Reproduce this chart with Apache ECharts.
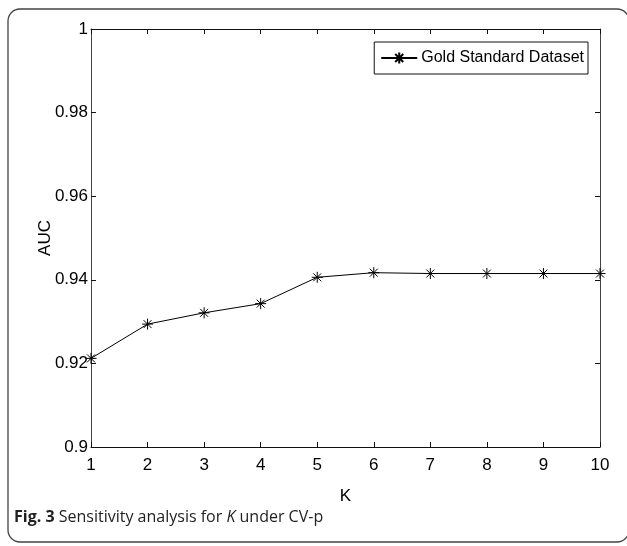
<!DOCTYPE html>
<html>
<head>
<meta charset="utf-8">
<script src="https://cdn.jsdelivr.net/npm/echarts@6/dist/echarts.min.js"></script>
<style>html,body{margin:0;padding:0;background:#fff}#c{width:627px;height:546px}</style>
</head>
<body>
<div id="c"></div>
<script>
const kValues = [1, 2, 3, 4, 5, 6, 7, 8, 9, 10];
const aucValues = [0.9212, 0.9294, 0.9321, 0.9343, 0.9406, 0.9417, 0.9415, 0.9415, 0.9415, 0.9415];
const seriesName = 'Gold Standard Dataset';
const yTicks = [0.9, 0.92, 0.94, 0.96, 0.98, 1];

const chart = echarts.init(document.getElementById('c'), null, {renderer: 'canvas'});
const star = 'path://M0,-5L0,5M-5,0L5,0M-3.6,-3.6L3.6,3.6M-3.6,3.6L3.6,-3.6';
const font = "'Liberation Sans', Arial, Helvetica, sans-serif";
const capFont = "'Open Sans', 'Noto Sans', sans-serif";
const axisLine = {show: true, lineStyle: {color: '#111', width: 1}};
const tick = {show: true, inside: true, length: 5, lineStyle: {color: '#111'}};

chart.setOption({
  animation: false,
  backgroundColor: '#fff',
  grid: {left: 91, right: 27, top: 29, bottom: 99, containLabel: false},
  title: {
    text: '{b|Fig. 3} Sensitivity analysis for {i|K} under CV-p',
    left: 14, top: 509,
    padding: 0,
    textStyle: {
      fontFamily: capFont, fontSize: 16, fontWeight: 'normal', color: '#222',
      rich: {
        b: {fontFamily: capFont, fontSize: 16, fontWeight: 'bold', color: '#222'},
        i: {fontFamily: capFont, fontSize: 16, fontStyle: 'italic', color: '#222'}
      }
    }
  },
  legend: {
    right: 39, top: 42,
    orient: 'horizontal',
    data: [seriesName],
    borderColor: '#111', borderWidth: 1, borderRadius: 0,
    padding: [8, 4, 8, 6],
    itemWidth: 36, itemHeight: 14, itemGap: 4,
    textStyle: {fontFamily: font, fontSize: 16, color: '#000', padding: [0, 0, 0, -1]}
  },
  graphic: [{
    type: 'rect', silent: true,
    shape: {x: 8, y: 9, width: 621, height: 533, r: 12},
    style: {fill: 'none', stroke: '#444', lineWidth: 1.3}
  }],
  xAxis: [{
    type: 'value', min: 1, max: 10, interval: 1, position: 'bottom',
    name: 'K', nameLocation: 'middle', nameGap: 41, nameMoveOverlap: false,
    nameTextStyle: {fontFamily: font, fontSize: 17, color: '#000'},
    axisLine: axisLine, axisTick: tick, splitLine: {show: false},
    axisLabel: {fontFamily: font, fontSize: 17, color: '#000', margin: 10}
  }, {
    type: 'value', min: 1, max: 10, interval: 1, position: 'top',
    axisLine: axisLine, axisTick: tick, splitLine: {show: false}, axisLabel: {show: false}
  }],
  yAxis: [{
    type: 'value', min: 0.9, max: 1, interval: 0.02, position: 'left',
    name: 'AUC', nameLocation: 'middle', nameGap: 37, nameRotate: 90, nameMoveOverlap: false,
    nameTextStyle: {fontFamily: font, fontSize: 17, color: '#000'},
    axisLine: {show: true, lineStyle: {color: '#444', width: 1}}, axisTick: tick, splitLine: {show: false},
    axisLabel: {fontFamily: font, fontSize: 17, color: '#000', margin: 3,
      formatter: v => { const t = yTicks.find(x => Math.abs(x - v) < 1e-6); return t === undefined ? '' : String(t); }}
  }, {
    type: 'value', min: 0.9, max: 1, interval: 0.02, position: 'right',
    axisLine: {show: true, lineStyle: {color: '#444', width: 1}}, axisTick: tick, splitLine: {show: false}, axisLabel: {show: false}
  }],
  series: [{
    name: seriesName, type: 'line',
    data: kValues.map((k, i) => [k, aucValues[i]]),
    symbol: star, symbolSize: 11,
    showAllSymbol: true,
    lineStyle: {color: '#000', width: 1},
    itemStyle: {color: '#000', borderColor: '#000', borderWidth: 1},
    clip: false
  }]
});
</script>
</body>
</html>
